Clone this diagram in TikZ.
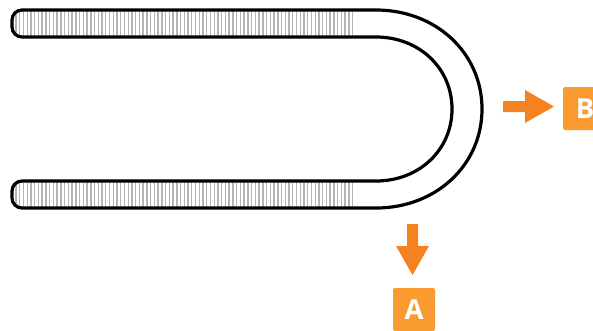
\documentclass[tikz,border=0pt]{standalone}
\usepackage{fontspec}
\setmainfont{Open Sans}
\definecolor{boxor}{HTML}{F99B31}
\definecolor{arrowor}{HTML}{F58220}
\definecolor{hatch}{HTML}{B4B4B4}
\tikzset{
  tube/.style={draw=black,line width=3.2pt,line join=round},
  tag/.style={fill=boxor,rounded corners=2pt,minimum width=42pt,minimum height=43pt,inner sep=0pt,text=white,font=\bfseries\fontsize{27.5}{27.5}\selectfont},
  fat/.style={fill=arrowor,draw=none}
}
\begin{document}
\begin{tikzpicture}[x=1pt,y=-1pt]
\useasboundingbox (0,0) rectangle (593,330);
\foreach \i in {0,...,90}{
  \draw[hatch,line width=1.4pt] ({16+\i*3.74},11) -- ({16+\i*3.74},36);
  \draw[hatch,line width=1.4pt] ({16+\i*3.74},182) -- ({16+\i*3.74},207);
}
\draw[tube] (376,10) .. controls (436,10) and (482,53) .. (482,109)
  .. controls (482,165) and (436,208) .. (376,208)
  -- (22,208) .. controls (16.5,208) and (12,203.5) .. (12,198)
  -- (12,191) .. controls (12,185.5) and (16.5,181) .. (22,181)
  -- (376,181) .. controls (419,181) and (452,150) .. (452,109)
  .. controls (452,68) and (419,37) .. (376,37)
  -- (22,37) .. controls (16.5,37) and (12,32.5) .. (12,27)
  -- (12,20) .. controls (12,14.5) and (16.5,10) .. (22,10) -- cycle;
\node[tag] (A) at (414,309.5) {A};
\node[tag,minimum width=44pt,anchor=west] (B) at (563,108.5) {B};
\fill[fat] (407,224) -- (418,224) -- (418,246) -- (429,246) -- (412.5,275) -- (396,246) -- (407,246) -- cycle;
\fill[fat] (503,101) -- (525,101) -- (525,90) -- (554,106.5) -- (525,123) -- (525,112) -- (503,112) -- cycle;
\end{tikzpicture}
\end{document}
